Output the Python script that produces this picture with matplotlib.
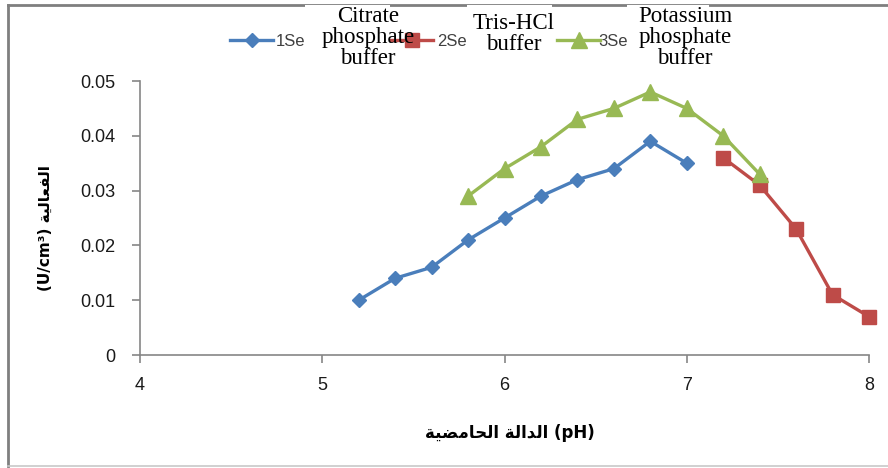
import matplotlib.pyplot as plt
from matplotlib.lines import Line2D
from matplotlib.patches import Rectangle

# data
ph_citrate = [5.2, 5.4, 5.6, 5.8, 6.0, 6.2, 6.4, 6.6, 6.8, 7.0]
act_citrate = [0.010, 0.014, 0.016, 0.021, 0.025, 0.029, 0.032, 0.034, 0.039, 0.035]

ph_tris = [7.2, 7.4, 7.6, 7.8, 8.0]
act_tris = [0.036, 0.031, 0.023, 0.011, 0.007]

ph_potassium = [5.8, 6.0, 6.2, 6.4, 6.6, 6.8, 7.0, 7.2, 7.4]
act_potassium = [0.029, 0.034, 0.038, 0.043, 0.045, 0.048, 0.045, 0.040, 0.033]

x_ticks = [4, 5, 6, 7, 8]
y_ticks = [0, 0.01, 0.02, 0.03, 0.04, 0.05]
y_ticklabels = ['0', '0.01', '0.02', '0.03', '0.04', '0.05']

series_names = ['1Series', '2Series', '3Series']
buffer_names = ['Citrate\nphosphate\nbuffer', 'Tris-HCl\nbuffer', 'Potassium\nphosphate\nbuffer']

blue = '#4A7EBB'
red = '#BE4B48'
green = '#98B954'
axis_gray = '#868686'

# Arabic text given in presentation forms, visual (left-to-right) order
ar_activity = '\uFE94\uFEF4\uFEDF\uFE8E\uFECC\uFED4\uFEDF\uFE8D'
ar_dala = '\uFE94\uFEDF\uFE8D\uFEAA\uFEDF\uFE8D'
ar_hamdia = '\uFE94\uFEF4\uFEC0\uFEE3\uFE8E\uFEA4\uFEDF\uFE8D'

W, H = 888, 468
fig = plt.figure(figsize=(W / 100, H / 100), dpi=100)
ax = fig.add_axes([140 / W, 1 - 355 / H, (869 - 140) / W, (355 - 81) / H])


def fx(px):
    return px / W


def fy(py):
    return 1 - py / H


ax.plot(ph_citrate, act_citrate, color=blue, lw=2.4, marker='D', ms=7.5, clip_on=False, zorder=3)
ax.plot(ph_tris, act_tris, color=red, lw=2.4, marker='s', ms=10, clip_on=False, zorder=3)
ax.plot(ph_potassium, act_potassium, color=green, lw=2.4, marker='^', ms=11, clip_on=False, zorder=3)

ax.set_xlim(4, 8)
ax.set_ylim(0, 0.05)
ax.set_xticks(x_ticks)
ax.set_xticklabels([str(t) for t in x_ticks])
ax.set_yticks(y_ticks)
ax.set_yticklabels(y_ticklabels)

for s in ['top', 'right']:
    ax.spines[s].set_visible(False)
for s in ['left', 'bottom']:
    ax.spines[s].set_color(axis_gray)
    ax.spines[s].set_linewidth(1.2)
ax.tick_params(axis='both', colors=axis_gray, length=6, width=1.2, labelsize=13,
               labelcolor='#1a1a1a')
ax.tick_params(axis='y', pad=12)
ax.tick_params(axis='x', pad=10)
for lab in ax.get_xticklabels() + ax.get_yticklabels():
    lab.set_family('Liberation Sans')

ax.set_ylabel('(U/cm\u00b3) ' + ar_activity, family=['DejaVu Sans'], fontweight='bold',
              fontsize=11, labelpad=0)
ax.yaxis.set_label_coords((53 - 140) / (869 - 140), (355 - 228) / (355 - 81))
ax.set_xlabel(ar_hamdia + ' ' + ar_dala + ' (pH)', family=['DejaVu Sans'], fontweight='bold',
              fontsize=12)
ax.xaxis.set_label_coords((510 - 140) / (869 - 140), (355 - 424) / (355 - 81))

# outer chart frame
fig.add_artist(Line2D([fx(8), fx(8)], [fy(5), fy(466)], color='#7f7f7f', lw=2))
fig.add_artist(Line2D([fx(8), 1], [fy(5), fy(5)], color='#7f7f7f', lw=2))
fig.add_artist(Line2D([fx(8), 1], [fy(466), fy(466)], color='#c8c8c8', lw=1.2))

# legend entries
handles = [(230, 273, blue, 'D', 7.5), (391, 433, red, 's', 10), (557, 600, green, '^', 11)]
text_x = [276, 437, 598]
for (x0, x1, c, m, ms), tx, name in zip(handles, text_x, series_names):
    fig.add_artist(Line2D([fx(x0), fx(x1)], [fy(40), fy(40)], color=c, lw=2.4))
    fig.add_artist(Line2D([fx((x0 + x1) / 2)], [fy(40)], color=c, marker=m, ms=ms, lw=0))
    fig.text(fx(tx), fy(41), name, fontsize=12, family='Liberation Sans', color='#404040',
             va='center', ha='left')

# overlaid white text boxes with buffer names
boxes = [(305, 390), (467, 552), (627, 709)]
centers = [368, 514, 685]
tops = [6, 13, 6]
for (b0, b1), cx, ty, label in zip(boxes, centers, tops, buffer_names):
    fig.add_artist(Rectangle((fx(b0), fy(68)), fx(b1 - b0), 63 / H, facecolor='white',
                             edgecolor='none', transform=fig.transFigure, zorder=5))
    fig.text(fx(cx), fy(ty), label, fontsize=16.5, family='Liberation Serif', color='black',
             ha='center', va='top', linespacing=1.0, zorder=6)

fig.savefig('out.png', dpi=100)
